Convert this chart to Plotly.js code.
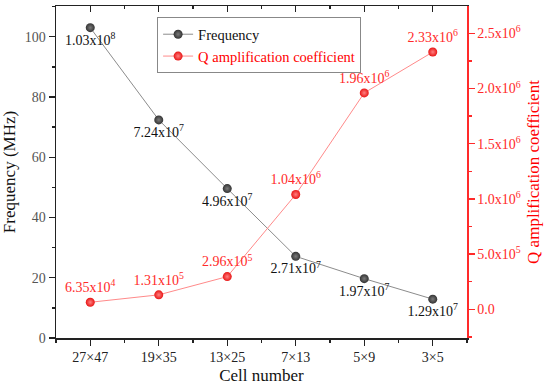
<!DOCTYPE html>
<html><head><meta charset="utf-8">
<script src="https://cdn.plot.ly/plotly-3.0.1.min.js"></script>
<style>html,body{margin:0;padding:0;background:#fff}#chart{width:550px;height:385px}</style>
</head><body><div id="chart"></div>
<script>
const cells = ['27×47','19×35','13×25','7×13','5×9','3×5'];
const freqMHz = [103, 72.4, 49.6, 27.1, 19.7, 12.9];
const qCoef = [6.35e4, 1.31e5, 2.96e5, 1.04e6, 1.96e6, 2.33e6];
const qTickVals = [0, 5e5, 1e6, 1.5e6, 2e6, 2.5e6];

function sci(v, d){
  if (v === 0) return (0).toFixed(d);
  const parts = v.toExponential(d).split('e');
  return parts[0] + 'x10<sup>' + parseInt(parts[1], 10) + '</sup>';
}
const xIdx = cells.map((c, i) => i);
const freqText = freqMHz.map(v => sci(v * 1e6, 2));
const qText = qCoef.map(v => sci(v, 2));
const qTickText = qTickVals.map(v => sci(v, 1));

const FONT = '"Liberation Serif", serif';
const RED = '#ff2a2a';

const traces = [
  {
    x: xIdx, y: freqMHz, name: 'Frequency', type: 'scatter', mode: 'lines+markers+text',
    text: freqText, textposition: 'bottom center',
    textfont: {family: FONT, size: 14, color: '#111'},
    line: {color: '#8c8c8c', width: 1},
    marker: {size: 9, color: '#333333', gradient: {type: 'radial', color: '#7a7a7a'}, line: {width: 0}},
    cliponaxis: false
  },
  {
    x: xIdx, y: qCoef, yaxis: 'y2', name: '<span style="color:#ff0000">Q amplification coefficient</span>',
    type: 'scatter', mode: 'lines+markers+text',
    text: qText, textposition: 'top center',
    textfont: {family: FONT, size: 14, color: RED},
    line: {color: '#ff8a8a', width: 1},
    marker: {size: 9, color: '#e81515', gradient: {type: 'radial', color: '#ff8080'}, line: {width: 0}},
    cliponaxis: false
  },
  {
    x: [xIdx[0]], y: [freqMHz[0]], xaxis: 'x2', type: 'scatter', mode: 'markers',
    marker: {opacity: 0}, showlegend: false, hoverinfo: 'skip'
  }
];

const layout = {
  width: 550, height: 385,
  margin: {l: 56, r: 83, t: 6, b: 47},
  paper_bgcolor: '#fff', plot_bgcolor: '#fff',
  font: {family: FONT, size: 14, color: '#222'},
  showlegend: true,
  legend: {
    x: 0.246, y: 0.966, xanchor: 'left', yanchor: 'top',
    bgcolor: '#fff', bordercolor: '#888', borderwidth: 1,
    font: {family: FONT, size: 14.5, color: '#111'},
    tracegroupgap: 0, itemwidth: 30
  },
  xaxis: {
    range: [-0.5, 5.5], tickmode: 'array', tickvals: xIdx, ticktext: cells,
    showgrid: false, zeroline: false, showline: true, linecolor: '#222', linewidth: 1.5,
    ticks: 'outside', ticklen: 6, tickwidth: 1.3, tickcolor: '#222',
    tickfont: {family: FONT, size: 14, color: '#222'},
    minor: {tickmode: 'linear', tick0: -0.5, dtick: 1, ticks: 'outside', ticklen: 3, tickcolor: '#222', tickwidth: 1.3, showgrid: false},
    title: {text: 'Cell number', font: {family: FONT, size: 17, color: '#111'}, standoff: 5}
  },
  xaxis2: {
    overlaying: 'x', side: 'top', range: [-0.5, 5.5], tickmode: 'array', tickvals: xIdx, showticklabels: false,
    showgrid: false, zeroline: false, showline: true, linecolor: '#222', linewidth: 1.5,
    ticks: 'inside', ticklen: 6, tickwidth: 1.3, tickcolor: '#222',
    minor: {tickmode: 'linear', tick0: -0.5, dtick: 1, ticks: 'inside', ticklen: 3, tickcolor: '#222', tickwidth: 1.3, showgrid: false}
  },
  yaxis: {
    range: [0, 110.2], tickmode: 'linear', tick0: 0, dtick: 20,
    showgrid: false, zeroline: false, showline: true, linecolor: '#222', linewidth: 1.5,
    ticks: 'outside', ticklen: 6, tickwidth: 1.3, tickcolor: '#222',
    tickfont: {family: FONT, size: 14, color: '#555'},
    minor: {tickmode: 'linear', tick0: 10, dtick: 20, ticks: 'outside', ticklen: 3, tickcolor: '#222', tickwidth: 1.3, showgrid: false},
    title: {text: 'Frequency (MHz)', font: {family: FONT, size: 17, color: '#111'}, standoff: 6}
  },
  yaxis2: {
    overlaying: 'y', side: 'right', range: [-260000, 2747000],
    tickmode: 'array', tickvals: qTickVals, ticktext: qTickText,
    showgrid: false, zeroline: false, showline: true, linecolor: RED, linewidth: 1.5,
    ticks: 'outside', ticklen: 6, tickwidth: 1.3, tickcolor: RED,
    tickfont: {family: FONT, size: 14, color: RED},
    minor: {tickmode: 'linear', tick0: 250000, dtick: 500000, ticks: 'outside', ticklen: 3, tickcolor: RED, tickwidth: 1.3, showgrid: false},
    title: {text: 'Q amplification coefficient', font: {family: FONT, size: 17, color: '#ff0000'}, standoff: 7}
  }
};

Plotly.newPlot('chart', traces, layout, {displayModeBar: false, staticPlot: true});
</script>
</body></html>
